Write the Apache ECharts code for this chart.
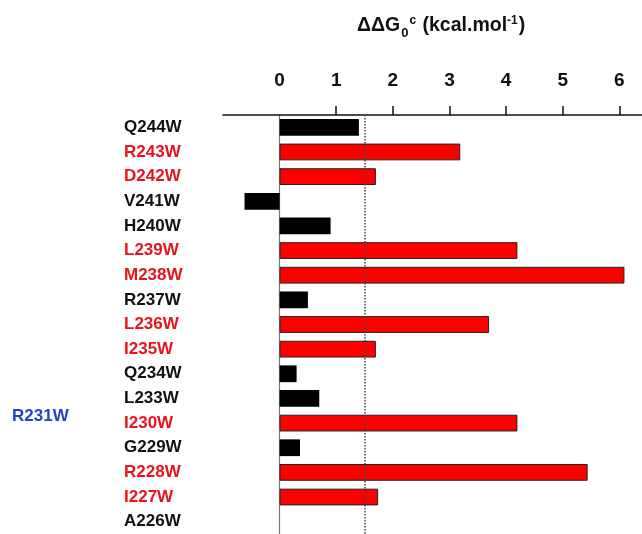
<!DOCTYPE html>
<html>
<head>
<meta charset="utf-8">
<script src="https://cdn.jsdelivr.net/npm/echarts@6/dist/echarts.min.js"></script>
<style>html,body{margin:0;padding:0;background:#fff}#c{width:642px;height:534px}</style>
</head>
<body>
<div id="c"></div>
<script>
const categories = ['Q244W','R243W','D242W','V241W','H240W','L239W','M238W','R237W','L236W','I235W','Q234W','L233W','I230W','G229W','R228W','I227W','A226W'];
const ddg = [1.40, 3.19, 1.70, -0.62, 0.90, 4.20, 6.09, 0.50, 3.70, 1.70, 0.30, 0.70, 4.20, 0.36, 5.44, 1.74, 0];
const group = ['k','r','r','k','k','r','r','k','r','r','k','k','r','k','r','r','k'];
const tickLabels = [0, 1, 2, 3, 4, 5, 6];
const tickMarks = [1, 2, 3, 4, 5, 6];
const threshold = 1.5;
const sideNote = 'R231W';

const RED = '#ff0000', LABEL_RED = '#e8141c', BLACK = '#000000', BLUE = '#2244c4';
const font = '"Liberation Sans", Arial, sans-serif';

const chart = echarts.init(document.getElementById('c'), null, {renderer: 'canvas'});
chart.setOption({
  animation: false,
  backgroundColor: '#fff',
  grid: {left: 223, right: 0, top: 115, bottom: -4, containLabel: false},
  xAxis: {
    type: 'value', position: 'top', min: -1, max: 6.4,
    splitLine: {show: false},
    axisLine: {show: true, lineStyle: {color: '#111', width: 1.5}},
    axisTick: {show: true, customValues: tickMarks, length: 9, inside: false, lineStyle: {color: '#111', width: 1.5}},
    axisLabel: {customValues: tickLabels, margin: 25, fontSize: 19, fontWeight: 'bold', color: '#111', fontFamily: font}
  },
  yAxis: {
    type: 'category', inverse: true, data: categories,
    axisLine: {show: true, onZero: true, lineStyle: {color: '#777', width: 1.2}},
    axisTick: {show: false},
    axisLabel: {
      margin: 99, align: 'left', fontSize: 17, fontWeight: 'bold', fontFamily: font,
      color: function (v, i) { return group[i] === 'r' ? LABEL_RED : '#111'; }
    }
  },
  series: [{
    type: 'bar', barWidth: '68%',
    data: ddg.map((v, i) => ({
      value: v,
      itemStyle: group[i] === 'r'
        ? {color: RED, borderColor: '#222', borderWidth: 1}
        : {color: BLACK, borderColor: BLACK, borderWidth: 0}
    })),
    markLine: {
      silent: true, symbol: 'none', label: {show: false},
      lineStyle: {color: '#444', type: 'dotted', width: 1.5},
      data: [{xAxis: threshold}]
    }
  }],
  graphic: [
    {type: 'text', left: 357, top: 12,
     style: {
       text: '{a|ΔΔG}{sub|0}{sup|c}{a| (kcal.mol}{sup|-1}{a|)}',
       rich: {
         a: {fontSize: 19.5, fontWeight: 'bold', fontFamily: font, fill: '#111', lineHeight: 24, verticalAlign: 'bottom'},
         sub: {fontSize: 13, fontWeight: 'bold', fontFamily: font, fill: '#111', lineHeight: 24, verticalAlign: 'bottom', padding: [0,1,-4,1]},
         sup: {fontSize: 12, fontWeight: 'bold', fontFamily: font, fill: '#111', lineHeight: 24, verticalAlign: 'top', padding: [3,1,0,0]}
       }
     }},
    {type: 'text', left: 12, top: 408,
     style: {text: sideNote, fontSize: 17, fontWeight: 'bold', fontFamily: font, fill: BLUE}}
  ]
});
</script>
</body>
</html>
